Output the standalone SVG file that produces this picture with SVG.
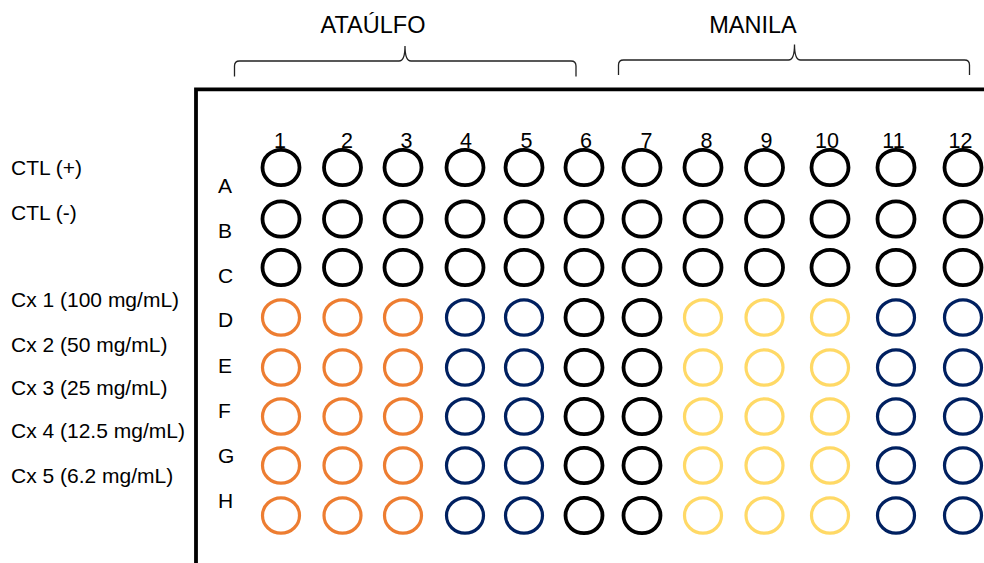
<svg xmlns="http://www.w3.org/2000/svg" width="984" height="563" viewBox="0 0 984 563">
<style>
text{font-family:"Liberation Sans",Arial,sans-serif;fill:#000}
.title{font-size:23.5px;text-anchor:middle}
.num{font-size:21.5px;text-anchor:middle}
.row{font-size:21px}
.side{font-size:21px}
ellipse{fill:none}
.k{stroke:#000;stroke-width:3.8}
.o{stroke:#ED7D31;stroke-width:3.2}
.n{stroke:#002060;stroke-width:3.2}
.y{stroke:#FFD966;stroke-width:3.2}
.brace{fill:none;stroke:#222;stroke-width:1.3}
</style>
<rect width="984" height="563" fill="#fff"/>
<g id="titles">
<text class="title" x="373" y="33.3">ATAÚLFO</text>
<text class="title" x="753" y="33.3">MANILA</text>
</g>
<g id="connectors">
<path class="brace" d="M234.5 76.5 L234.5 66 Q234.5 61 239.5 61 L399 61 Q405 61 405 46 Q405 61 411 61 L571 61 Q576 61 576 66 L576 76.5"/>
<path class="brace" d="M618.5 75 L618.5 65 Q618.5 60 623.5 60 L788.5 60 Q794.5 60 794.5 44.5 Q794.5 60 800.5 60 L964.5 60 Q969.5 60 969.5 65 L969.5 75"/>
</g>
<g id="plate-frame">
<path d="M196 563 L196 89.3 L984 89.3" fill="none" stroke="#000" stroke-width="3.8"/>
</g>
<g id="side-labels">
<text class="side" x="11" y="175">CTL (+)</text>
<text class="side" x="11" y="219.5">CTL (-)</text>
<text class="side" x="11" y="306.7">Cx 1 (100 mg/mL)</text>
<text class="side" x="11" y="351.7">Cx 2 (50 mg/mL)</text>
<text class="side" x="11" y="395">Cx 3 (25 mg/mL)</text>
<text class="side" x="11" y="438.3">Cx 4 (12.5 mg/mL)</text>
<text class="side" x="11" y="483.3">Cx 5 (6.2 mg/mL)</text>
</g>
<g id="row-labels">
<text class="row" x="218" y="193.3">A</text>
<text class="row" x="218" y="237.7">B</text>
<text class="row" x="218" y="283.3">C</text>
<text class="row" x="218" y="326.7">D</text>
<text class="row" x="218" y="373.3">E</text>
<text class="row" x="218" y="418.3">F</text>
<text class="row" x="218" y="462.7">G</text>
<text class="row" x="218" y="508.3">H</text>
</g>
<g id="column-labels">
<text class="num" x="280" y="148">1</text>
<text class="num" x="347" y="148">2</text>
<text class="num" x="406.5" y="148">3</text>
<text class="num" x="466" y="148">4</text>
<text class="num" x="526.5" y="148">5</text>
<text class="num" x="586" y="148">6</text>
<text class="num" x="646.5" y="148">7</text>
<text class="num" x="706.5" y="148">8</text>
<text class="num" x="766.5" y="148">9</text>
<text class="num" x="827" y="148">10</text>
<text class="num" x="893.5" y="148">11</text>
<text class="num" x="960.5" y="148">12</text>
</g>
<g id="row-A">
<ellipse id="A1" class="k" cx="281" cy="167.5" rx="18.5" ry="17.7"/><ellipse id="A2" class="k" cx="342.5" cy="167.5" rx="18.5" ry="17.7"/><ellipse id="A3" class="k" cx="403" cy="167.5" rx="18.5" ry="17.7"/><ellipse id="A4" class="k" cx="465" cy="167.5" rx="18.5" ry="17.7"/><ellipse id="A5" class="k" cx="524" cy="167.5" rx="18.5" ry="17.7"/><ellipse id="A6" class="k" cx="584" cy="167.5" rx="18.5" ry="17.7"/><ellipse id="A7" class="k" cx="642" cy="167.5" rx="18.5" ry="17.7"/><ellipse id="A8" class="k" cx="703" cy="167.5" rx="18.5" ry="17.7"/><ellipse id="A9" class="k" cx="764.5" cy="167.5" rx="18.5" ry="17.7"/><ellipse id="A10" class="k" cx="830" cy="167.5" rx="18.5" ry="17.7"/><ellipse id="A11" class="k" cx="896" cy="167.5" rx="18.5" ry="17.7"/><ellipse id="A12" class="k" cx="963" cy="167.5" rx="18.5" ry="17.7"/>
</g>
<g id="row-B">
<ellipse id="B1" class="k" cx="281" cy="219" rx="18.5" ry="17.7"/><ellipse id="B2" class="k" cx="342.5" cy="219" rx="18.5" ry="17.7"/><ellipse id="B3" class="k" cx="403" cy="219" rx="18.5" ry="17.7"/><ellipse id="B4" class="k" cx="465" cy="219" rx="18.5" ry="17.7"/><ellipse id="B5" class="k" cx="524" cy="219" rx="18.5" ry="17.7"/><ellipse id="B6" class="k" cx="584" cy="219" rx="18.5" ry="17.7"/><ellipse id="B7" class="k" cx="642" cy="219" rx="18.5" ry="17.7"/><ellipse id="B8" class="k" cx="703" cy="219" rx="18.5" ry="17.7"/><ellipse id="B9" class="k" cx="764.5" cy="219" rx="18.5" ry="17.7"/><ellipse id="B10" class="k" cx="830" cy="219" rx="18.5" ry="17.7"/><ellipse id="B11" class="k" cx="896" cy="219" rx="18.5" ry="17.7"/><ellipse id="B12" class="k" cx="963" cy="219" rx="18.5" ry="17.7"/>
</g>
<g id="row-C">
<ellipse id="C1" class="k" cx="281" cy="267.5" rx="18.5" ry="17.7"/><ellipse id="C2" class="k" cx="342.5" cy="267.5" rx="18.5" ry="17.7"/><ellipse id="C3" class="k" cx="403" cy="267.5" rx="18.5" ry="17.7"/><ellipse id="C4" class="k" cx="465" cy="267.5" rx="18.5" ry="17.7"/><ellipse id="C5" class="k" cx="524" cy="267.5" rx="18.5" ry="17.7"/><ellipse id="C6" class="k" cx="584" cy="267.5" rx="18.5" ry="17.7"/><ellipse id="C7" class="k" cx="642" cy="267.5" rx="18.5" ry="17.7"/><ellipse id="C8" class="k" cx="703" cy="267.5" rx="18.5" ry="17.7"/><ellipse id="C9" class="k" cx="764.5" cy="267.5" rx="18.5" ry="17.7"/><ellipse id="C10" class="k" cx="830" cy="267.5" rx="18.5" ry="17.7"/><ellipse id="C11" class="k" cx="896" cy="267.5" rx="18.5" ry="17.7"/><ellipse id="C12" class="k" cx="963" cy="267.5" rx="18.5" ry="17.7"/>
</g>
<g id="row-D">
<ellipse id="D1" class="o" cx="281" cy="317.5" rx="18.5" ry="17.7"/><ellipse id="D2" class="o" cx="342.5" cy="317.5" rx="18.5" ry="17.7"/><ellipse id="D3" class="o" cx="403" cy="317.5" rx="18.5" ry="17.7"/><ellipse id="D4" class="n" cx="465" cy="317.5" rx="18.5" ry="17.7"/><ellipse id="D5" class="n" cx="524" cy="317.5" rx="18.5" ry="17.7"/><ellipse id="D6" class="k" cx="584" cy="317.5" rx="18.5" ry="17.7"/><ellipse id="D7" class="k" cx="642" cy="317.5" rx="18.5" ry="17.7"/><ellipse id="D8" class="y" cx="703" cy="317.5" rx="18.5" ry="17.7"/><ellipse id="D9" class="y" cx="764.5" cy="317.5" rx="18.5" ry="17.7"/><ellipse id="D10" class="y" cx="830" cy="317.5" rx="18.5" ry="17.7"/><ellipse id="D11" class="n" cx="896" cy="317.5" rx="18.5" ry="17.7"/><ellipse id="D12" class="n" cx="963" cy="317.5" rx="18.5" ry="17.7"/>
</g>
<g id="row-E">
<ellipse id="E1" class="o" cx="281" cy="367.5" rx="18.5" ry="17.7"/><ellipse id="E2" class="o" cx="342.5" cy="367.5" rx="18.5" ry="17.7"/><ellipse id="E3" class="o" cx="403" cy="367.5" rx="18.5" ry="17.7"/><ellipse id="E4" class="n" cx="465" cy="367.5" rx="18.5" ry="17.7"/><ellipse id="E5" class="n" cx="524" cy="367.5" rx="18.5" ry="17.7"/><ellipse id="E6" class="k" cx="584" cy="367.5" rx="18.5" ry="17.7"/><ellipse id="E7" class="k" cx="642" cy="367.5" rx="18.5" ry="17.7"/><ellipse id="E8" class="y" cx="703" cy="367.5" rx="18.5" ry="17.7"/><ellipse id="E9" class="y" cx="764.5" cy="367.5" rx="18.5" ry="17.7"/><ellipse id="E10" class="y" cx="830" cy="367.5" rx="18.5" ry="17.7"/><ellipse id="E11" class="n" cx="896" cy="367.5" rx="18.5" ry="17.7"/><ellipse id="E12" class="n" cx="963" cy="367.5" rx="18.5" ry="17.7"/>
</g>
<g id="row-F">
<ellipse id="F1" class="o" cx="281" cy="416.5" rx="18.5" ry="17.7"/><ellipse id="F2" class="o" cx="342.5" cy="416.5" rx="18.5" ry="17.7"/><ellipse id="F3" class="o" cx="403" cy="416.5" rx="18.5" ry="17.7"/><ellipse id="F4" class="n" cx="465" cy="416.5" rx="18.5" ry="17.7"/><ellipse id="F5" class="n" cx="524" cy="416.5" rx="18.5" ry="17.7"/><ellipse id="F6" class="k" cx="584" cy="416.5" rx="18.5" ry="17.7"/><ellipse id="F7" class="k" cx="642" cy="416.5" rx="18.5" ry="17.7"/><ellipse id="F8" class="y" cx="703" cy="416.5" rx="18.5" ry="17.7"/><ellipse id="F9" class="y" cx="764.5" cy="416.5" rx="18.5" ry="17.7"/><ellipse id="F10" class="y" cx="830" cy="416.5" rx="18.5" ry="17.7"/><ellipse id="F11" class="n" cx="896" cy="416.5" rx="18.5" ry="17.7"/><ellipse id="F12" class="n" cx="963" cy="416.5" rx="18.5" ry="17.7"/>
</g>
<g id="row-G">
<ellipse id="G1" class="o" cx="281" cy="465.5" rx="18.5" ry="17.7"/><ellipse id="G2" class="o" cx="342.5" cy="465.5" rx="18.5" ry="17.7"/><ellipse id="G3" class="o" cx="403" cy="465.5" rx="18.5" ry="17.7"/><ellipse id="G4" class="n" cx="465" cy="465.5" rx="18.5" ry="17.7"/><ellipse id="G5" class="n" cx="524" cy="465.5" rx="18.5" ry="17.7"/><ellipse id="G6" class="k" cx="584" cy="465.5" rx="18.5" ry="17.7"/><ellipse id="G7" class="k" cx="642" cy="465.5" rx="18.5" ry="17.7"/><ellipse id="G8" class="y" cx="703" cy="465.5" rx="18.5" ry="17.7"/><ellipse id="G9" class="y" cx="764.5" cy="465.5" rx="18.5" ry="17.7"/><ellipse id="G10" class="y" cx="830" cy="465.5" rx="18.5" ry="17.7"/><ellipse id="G11" class="n" cx="896" cy="465.5" rx="18.5" ry="17.7"/><ellipse id="G12" class="n" cx="963" cy="465.5" rx="18.5" ry="17.7"/>
</g>
<g id="row-H">
<ellipse id="H1" class="o" cx="281" cy="515.5" rx="18.5" ry="17.7"/><ellipse id="H2" class="o" cx="342.5" cy="515.5" rx="18.5" ry="17.7"/><ellipse id="H3" class="o" cx="403" cy="515.5" rx="18.5" ry="17.7"/><ellipse id="H4" class="n" cx="465" cy="515.5" rx="18.5" ry="17.7"/><ellipse id="H5" class="n" cx="524" cy="515.5" rx="18.5" ry="17.7"/><ellipse id="H6" class="k" cx="584" cy="515.5" rx="18.5" ry="17.7"/><ellipse id="H7" class="k" cx="642" cy="515.5" rx="18.5" ry="17.7"/><ellipse id="H8" class="y" cx="703" cy="515.5" rx="18.5" ry="17.7"/><ellipse id="H9" class="y" cx="764.5" cy="515.5" rx="18.5" ry="17.7"/><ellipse id="H10" class="y" cx="830" cy="515.5" rx="18.5" ry="17.7"/><ellipse id="H11" class="n" cx="896" cy="515.5" rx="18.5" ry="17.7"/><ellipse id="H12" class="n" cx="963" cy="515.5" rx="18.5" ry="17.7"/>
</g>
</svg>
